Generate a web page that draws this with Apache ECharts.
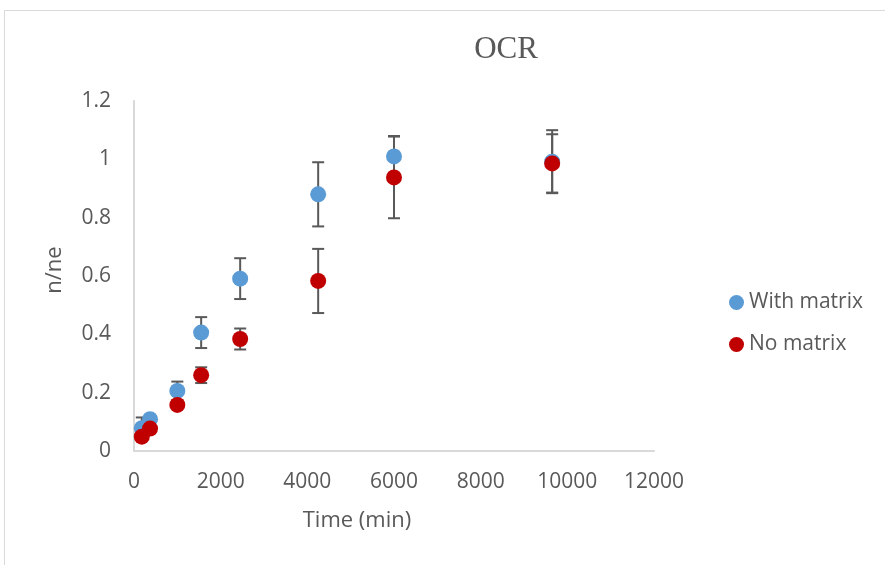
<!DOCTYPE html>
<html>
<head>
<meta charset="utf-8">
<script src="https://cdn.jsdelivr.net/npm/echarts@6/dist/echarts.min.js"></script>
<style>html,body{margin:0;padding:0;background:#fff}#c{width:885px;height:565px}</style>
</head>
<body>
<div id="c"></div>
<script>
var seriesNames = ['With matrix', 'No matrix'];
var withX = [180, 370, 1000, 1550, 2450, 4250, 6000, 9650];
var withY = [0.078, 0.109, 0.206, 0.406, 0.591, 0.880, 1.010, 0.992];
var withErr = [0.037, 0.01, 0.032, 0.053, 0.07, 0.11, 0.07, 0.108];
var noX = [180, 370, 1000, 1550, 2450, 4250, 6000, 9650];
var noY = [0.049, 0.077, 0.158, 0.260, 0.384, 0.583, 0.938, 0.986];
var noErr = [0.01, 0.01, 0.01, 0.027, 0.036, 0.11, 0.14, 0.10];
var xTicks = [0, 2000, 4000, 6000, 8000, 10000, 12000];
var yTicks = [0, 0.2, 0.4, 0.6, 0.8, 1, 1.2];

var labelColor = '#595959';
var font = '"Open Sans", "Liberation Sans", sans-serif';

function errData(xs, ys, es) {
  return xs.map(function (x, i) { return [x, ys[i] - es[i], ys[i] + es[i]]; });
}
function errRender(params, api) {
  var lo = api.coord([api.value(0), api.value(1)]);
  var hi = api.coord([api.value(0), api.value(2)]);
  var hw = 6;
  var st = { stroke: '#595959', lineWidth: 2 };
  return {
    type: 'group',
    children: [
      { type: 'line', shape: { x1: lo[0], y1: lo[1], x2: hi[0], y2: hi[1] }, style: st },
      { type: 'line', shape: { x1: lo[0] - hw, y1: lo[1], x2: lo[0] + hw, y2: lo[1] }, style: st },
      { type: 'line', shape: { x1: hi[0] - hw, y1: hi[1], x2: hi[0] + hw, y2: hi[1] }, style: st }
    ]
  };
}

var chart = echarts.init(document.getElementById('c'));
chart.setOption({
  animation: false,
  backgroundColor: '#fff',
  grid: { left: 134, right: 231, top: 101, bottom: 114 },
  graphic: [
    { type: 'rect', z: -1, shape: { x: 4.5, y: 10.5, width: 1000, height: 1000 }, style: { fill: 'none', stroke: '#d9d9d9', lineWidth: 1 } },
    { type: 'text', x: 506, y: 50, style: { text: 'OCR', font: '31px "Liberation Serif", "DejaVu Serif", serif', fill: labelColor, textAlign: 'center', textVerticalAlign: 'middle' } },
    { type: 'text', x: 357, y: 521, style: { text: 'Time (min)', font: '22px ' + font, fill: labelColor, textAlign: 'center', textVerticalAlign: 'middle' } },
    { type: 'text', x: 55, y: 270, rotation: Math.PI / 2, style: { text: 'n/ne', font: '22px ' + font, fill: labelColor, textAlign: 'center', textVerticalAlign: 'middle' } }
  ],
  legend: {
    orient: 'vertical',
    left: 724,
    top: 287,
    itemGap: 21,
    itemWidth: 15,
    itemHeight: 15,
    icon: 'circle',
    textStyle: { color: labelColor, fontSize: 21, fontFamily: font },
    data: seriesNames
  },
  xAxis: {
    type: 'value',
    min: xTicks[0],
    max: xTicks[xTicks.length - 1],
    interval: xTicks[1] - xTicks[0],
    splitLine: { show: false },
    axisTick: { show: false },
    axisLine: { show: true, lineStyle: { color: '#d9d9d9', width: 2 } },
    axisLabel: { color: labelColor, fontSize: 21, fontFamily: font, margin: 21,
      formatter: function (v) { return String(v); } }
  },
  yAxis: {
    type: 'value',
    min: yTicks[0],
    max: yTicks[yTicks.length - 1],
    interval: 0.2,
    splitLine: { show: false },
    axisTick: { show: false },
    axisLine: { show: true, lineStyle: { color: '#d9d9d9', width: 2 } },
    axisLabel: { color: labelColor, fontSize: 21, fontFamily: font, margin: 23,
      formatter: function (v) { return String(Math.round(v * 10) / 10); } }
  },
  series: [
    { type: 'custom', name: 'errW', z: 1, renderItem: errRender, data: errData(withX, withY, withErr), encode: { x: 0, y: [1, 2] }, silent: true },
    { type: 'custom', name: 'errN', z: 1, renderItem: errRender, data: errData(noX, noY, noErr), encode: { x: 0, y: [1, 2] }, silent: true },
    { type: 'scatter', name: seriesNames[0], z: 3, symbolSize: 16, itemStyle: { color: '#5B9BD5', opacity: 1 },
      data: withX.map(function (x, i) { return [x, withY[i]]; }) },
    { type: 'scatter', name: seriesNames[1], z: 4, symbolSize: 16, itemStyle: { color: '#C00000', opacity: 1 },
      data: noX.map(function (x, i) { return [x, noY[i]]; }) }
  ]
});
</script>
</body>
</html>
